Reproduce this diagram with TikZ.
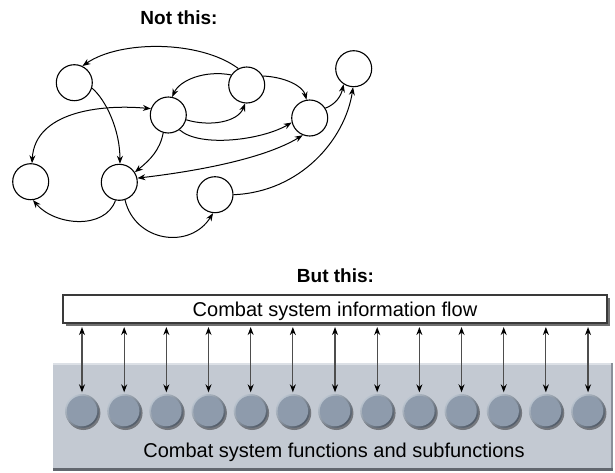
\documentclass[tikz,border=0pt]{standalone}
\usepackage{fontspec}
\setmainfont{Liberation Sans}
\usetikzlibrary{arrows.meta,shadows}
\definecolor{panelc}{HTML}{C3C9D2}
\definecolor{panellight}{HTML}{DCE0E6}
\definecolor{paneldark}{HTML}{8A9099}
\definecolor{panelbot}{HTML}{62676F}
\definecolor{circbody}{HTML}{8E9BAC}
\definecolor{circlight}{HTML}{BAC4CF}
\definecolor{circdark}{HTML}{4F5966}
\definecolor{arrowgray}{HTML}{4D4D4D}
\definecolor{boxline}{HTML}{3A3A3A}
\definecolor{boxshadow}{HTML}{707070}
\begin{document}
\begin{tikzpicture}[x=1pt,y=-1pt,
  gnode/.style={circle,draw=black,line width=1.1pt,minimum size=36pt,inner sep=0pt,fill=white},
  gedge/.style={line width=1pt,-{Stealth[length=8pt,width=6pt]}},
  bedge/.style={line width=1pt,{Stealth[length=8pt,width=6pt]}-{Stealth[length=8pt,width=6pt]}},
  titletext/.style={font=\fontsize{19}{22}\selectfont\bfseries,inner sep=0pt,anchor=base},
  lbl/.style={font=\fontsize{20}{24}\selectfont,inner sep=0pt,anchor=base},
  flowbox/.style={rectangle,draw=boxline,line width=1.1pt,fill=white,minimum width=544pt,minimum height=28pt,inner sep=0pt,
    drop shadow={shadow xshift=3pt,shadow yshift=-3pt,fill=boxshadow,opacity=1}},
  panelbox/.style={rectangle,fill=panelc,minimum width=560pt,minimum height=108pt,inner sep=0pt},
  func/.style={circle,minimum size=34pt,inner sep=0pt,
    top color=circlight,bottom color=circdark,shading angle=45,
    drop shadow={shadow xshift=1.4pt,shadow yshift=-2pt,fill=black,opacity=0.4},
    path picture={\fill[circbody] (path picture bounding box.center) circle (15.2pt);}},
  barrow/.style={draw=arrowgray,line width=1.1pt,
    {Stealth[length=8pt,width=6pt,color=black]}-{Stealth[length=8pt,width=6pt,color=black]},
    shorten <=1.5pt,shorten >=3.5pt}
]
\useasboundingbox (0,0) rectangle (615,472);

% ---------- top: "Not this:" ----------
\node[titletext] (t1) at (179,24) {Not this:};

\node[gnode] (A) at (74.3,82.7) {};
\node[gnode] (B) at (246.7,85) {};
\node[gnode] (C) at (353.7,68.7) {};
\node[gnode] (D) at (168.3,115) {};
\node[gnode] (E) at (309.7,118) {};
\node[gnode] (F) at (30.7,181.7) {};
\node[gnode] (G) at (119.3,182.3) {};
\node[gnode] (H) at (215,194.7) {};

\draw[gedge] (B.117) .. controls (200,40) and (120,40) .. (A.64);
\draw[gedge] (B.147) .. controls (205,70) and (180,80) .. (D.78);
\draw[gedge] (D.-15) .. controls (210,127) and (238,122) .. (B.265);
\draw[gedge] (B.29) .. controls (285,77) and (303,86) .. (E.100);
\draw[gedge] (D.-53) .. controls (200,148) and (262,140) .. (E.194);
\draw[gedge] (E.32) .. controls (336,104) and (341,96) .. (C.237);
\draw[gedge] (A.-17) .. controls (106,100) and (120,130) .. (G.88);
\draw[gedge] (D.254) .. controls (160,150) and (150,160) .. (G.33);
\draw[bedge] (D.160) .. controls (100,104) and (35,112) .. (F.86);
\draw[bedge] (G.13) .. controls (190,172) and (262,160) .. (E.248);
\draw[gedge] (G.258) .. controls (105,230) and (55,226) .. (F.277);
\draw[gedge] (G.288) .. controls (135,242) and (190,250) .. (H.264);
\draw[gedge] (H.0) .. controls (300,192) and (345,140) .. (C.268);

% ---------- bottom: "But this:" ----------
\node[titletext] (t2) at (335.5,282) {But this:};

\node[panelbox] (funcs) at (333,417) {};
\draw[panellight,line width=2pt] ([yshift=-1pt]funcs.north west) -- ([yshift=-1pt]funcs.north east);
\draw[paneldark,line width=2.5pt] ([xshift=-1.25pt]funcs.north east) -- ([xshift=-1.25pt]funcs.south east);
\draw[panelbot,line width=3pt] ([yshift=1.5pt]funcs.south west) -- ([yshift=1.5pt]funcs.south east);

\node[flowbox] (flow) at (335,309) {};
\node[lbl] (flowtxt) at (335,316) {Combat system information flow};

\foreach \i in {0,...,12}{
  \node[func] (c\i) at ({82+42.17*\i},411) {};
}
\foreach \i in {0,...,12}{
  \draw[barrow] (c\i) -- (c\i |- flow.south);
}

\node[lbl] (funcstxt) at (334,457) {Combat system functions and subfunctions};
\end{tikzpicture}
\end{document}
